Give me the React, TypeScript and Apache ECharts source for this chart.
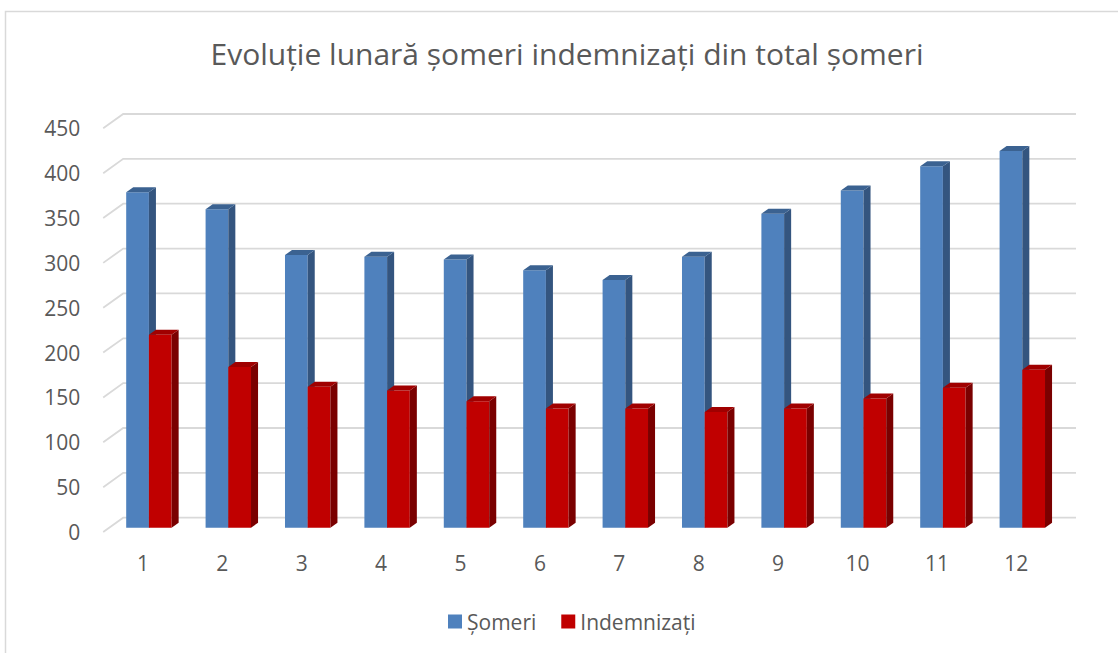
import React, { useEffect, useRef } from "react";
import * as echarts from "echarts";

const months = ["1", "2", "3", "4", "5", "6", "7", "8", "9", "10", "11", "12"];
const someriValues = [374, 355, 304, 302, 299, 287, 276, 302, 350, 376, 403, 420];
const indemnizatiValues = [215, 179, 157, 153, 141, 133, 133, 129, 133, 144, 156, 176];
const yTicks = [0, 50, 100, 150, 200, 250, 300, 350, 400, 450];

const TEXT = "#595959";
const GRID = "#d9d9d9";
const FONT = "'Open Sans', 'Noto Sans', sans-serif";

function makeBarRenderer(side: number, front: string, sideCol: string, topCol: string) {
  return (params: any, api: any) => {
    const cat = api.value(0);
    const val = api.value(1);
    const p = api.coord([cat, val]);
    const p0 = api.coord([cat, 0]);
    const band = api.size([1, 0])[0];
    const bw = band * 0.286;
    const dx = bw * 0.31;
    const dy = bw * 0.22;
    const x = side === 0 ? p[0] - bw : p[0];
    const y = p[1];
    const yb = p0[1];
    return {
      type: "group",
      children: [
        {
          type: "rect",
          shape: { x, y, width: bw, height: yb - y },
          style: { fill: front },
        },
        {
          type: "polygon",
          shape: { points: [[x + bw, y], [x + bw + dx, y - dy], [x + bw + dx, yb - dy], [x + bw, yb]] },
          style: { fill: sideCol },
        },
        {
          type: "polygon",
          shape: { points: [[x, y], [x + dx, y - dy], [x + bw + dx, y - dy], [x + bw, y]] },
          style: { fill: topCol },
        },
      ],
    };
  };
}

function gridRenderer(params: any, api: any) {
  const v = api.value(0);
  const cs = params.coordSys;
  const y = api.coord([0, v])[1];
  return {
    type: "polyline",
    shape: { points: [[cs.x - 20, y + 14.3], [cs.x, y], [cs.x + cs.width, y]] },
    style: { stroke: GRID, lineWidth: 1.8, fill: null },
    silent: true,
  };
}

export default function App() {
  const ref = useRef<HTMLDivElement>(null);
  useEffect(() => {
    document.body.style.margin = "0";
    const chart = echarts.init(ref.current!, null, { renderer: "svg" });
    chart.setOption({
      animation: false,
      backgroundColor: "#ffffff",
      textStyle: { fontFamily: FONT },
      title: {
        text: "Evoluție lunară șomeri indemnizați din total șomeri",
        left: 562,
        textAlign: "center",
        top: 33,
        textStyle: { color: TEXT, fontSize: 30, fontWeight: "normal", fontFamily: FONT },
      },
      legend: {
        top: 606,
        left: 443,
        itemWidth: 14,
        itemHeight: 14,
        itemGap: 25,
        icon: "rect",
        textStyle: { color: TEXT, fontSize: 21, fontFamily: FONT },
        data: ["Șomeri", "Indemnizați"],
      },
      graphic: [
        {
          type: "rect",
          shape: { x: 5.5, y: 11.5, width: 1200, height: 700 },
          style: { fill: null, stroke: GRID, lineWidth: 1.5 },
          silent: true,
          z: -10,
        },
      ],
      grid: [
        { left: 109.2, right: 56, top: 124, bottom: 125.3 },
        { left: 103.2, right: 62, top: 128.3, bottom: 121 },
        { left: 123.2, right: 42, top: 114, bottom: 135.3 },
      ],
      xAxis: [
        { type: "category", data: months, gridIndex: 0, show: false },
        {
          type: "category",
          data: months,
          gridIndex: 1,
          axisLine: { show: false },
          axisTick: { show: false },
          axisLabel: { color: TEXT, fontSize: 21, margin: 20, fontFamily: FONT },
        },
        { type: "category", data: months, gridIndex: 2, show: false },
      ],
      yAxis: [
        { type: "value", min: 0, max: 450, interval: 50, gridIndex: 0, show: false },
        {
          type: "value",
          min: 0,
          max: 450,
          interval: 50,
          gridIndex: 1,
          axisLine: { show: false },
          axisTick: { show: false },
          splitLine: { show: false },
          axisLabel: { color: TEXT, fontSize: 21, margin: 23, fontFamily: FONT },
        },
        {
          type: "value",
          min: 0,
          max: 450,
          interval: 50,
          gridIndex: 2,
          show: false,
          splitLine: { show: false },
        },
      ],
      series: [
        {
          type: "custom",
          name: "grid",
          xAxisIndex: 2,
          yAxisIndex: 2,
          data: yTicks.map((v) => [v]),
          encode: { y: 0 },
          renderItem: gridRenderer,
          silent: true,
          z: 0,
        },
        {
          type: "custom",
          name: "Șomeri",
          xAxisIndex: 0,
          yAxisIndex: 0,
          itemStyle: { color: "#4f81bd" },
          data: someriValues.map((v, i) => [i, v]),
          encode: { x: 0, y: 1 },
          renderItem: makeBarRenderer(0, "#4f81bd", "#34557f", "#3b6291"),
          z: 2,
        },
        {
          type: "custom",
          name: "Indemnizați",
          xAxisIndex: 0,
          yAxisIndex: 0,
          itemStyle: { color: "#c00000" },
          data: indemnizatiValues.map((v, i) => [i, v]),
          encode: { x: 0, y: 1 },
          renderItem: makeBarRenderer(1, "#c00000", "#7a0000", "#a00000"),
          z: 3,
        },
      ],
    });
    return () => chart.dispose();
  }, []);
  return <div ref={ref} style={{ width: 1118, height: 653 }} />;
}
